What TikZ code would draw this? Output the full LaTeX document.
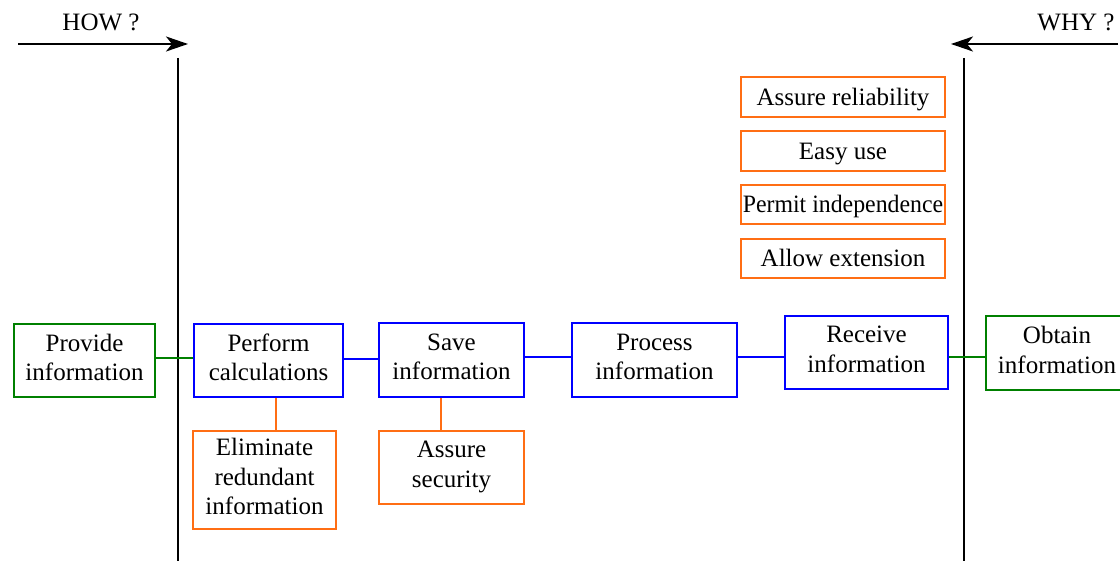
\documentclass[tikz,border=0pt]{standalone}
\usepackage{fontspec}
\setmainfont{Liberation Serif}
\usetikzlibrary{arrows.meta}
\definecolor{cgreen}{RGB}{0,128,0}
\definecolor{cblue}{RGB}{0,0,255}
\definecolor{corange}{RGB}{255,110,20}
\tikzset{
  bx/.style={draw, line width=0.9pt, inner sep=0pt, align=center,
    font=\fontsize{12.5}{14.7}\selectfont, text depth=3.3pt},
  one/.style={text height=9pt, text depth=0.7pt},
  gbox/.style={bx, draw=cgreen},
  bbox/.style={bx, draw=cblue},
  obox/.style={bx, draw=corange},
  gline/.style={draw=cgreen, line width=0.9pt},
  bline/.style={draw=cblue, line width=0.9pt},
  oline/.style={draw=corange, line width=0.9pt},
  axis/.style={draw=black, line width=1pt},
  harrow/.style={draw=black, line width=1pt, -{Stealth[length=11pt,width=7.5pt,inset=3pt]}},
  lbl/.style={font=\fontsize{12.5}{15}\selectfont, inner sep=0pt}
}
\begin{document}
\begin{tikzpicture}[x=0.5pt,y=-0.5pt]
\useasboundingbox (0,0) rectangle (1120,561);
% headers
\node[lbl] (how) at (101,22) {HOW ?};
\node[lbl] (why) at (1076,22) {WHY ?};
\coordinate (howa) at (18,44);
\coordinate (howb) at (188,44);
\coordinate (whya) at (1118,44);
\coordinate (whyb) at (951,44);
\draw[harrow] (howa) -- (howb);
\draw[harrow] (whya) -- (whyb);
% vertical lines
\coordinate (lt) at (178,58);
\coordinate (lb) at (178,561);
\coordinate (rt) at (964,58);
\coordinate (rb) at (964,561);
\draw[axis] (lt) -- (lb);
\draw[axis] (rt) -- (rb);
% main chain
\node[gbox, minimum width=70.5pt, minimum height=36.5pt] (provide) at (84.5,360.5) {Provide\\information};
\node[bbox, minimum width=74.5pt, minimum height=36.5pt] (perform) at (268.5,360.5) {Perform\\calculations};
\node[bbox, minimum width=72.5pt, minimum height=37pt] (save) at (451.5,360) {Save\\information};
\node[bbox, minimum width=82.5pt, minimum height=37pt] (process) at (654.5,360) {Process\\information};
\node[bbox, minimum width=81.5pt, minimum height=36.5pt] (receive) at (866.5,352.5) {Receive\\information};
\node[gbox, minimum width=71pt, minimum height=37pt] (obtain) at (1057,353) {Obtain\\information};
% sub boxes
\node[obox, minimum width=71.5pt, minimum height=49pt] (elim) at (264.5,480) {Eliminate\\redundant\\information};
\node[obox, minimum width=72.5pt, minimum height=36.5pt] (secu) at (451.5,467.5) {Assure\\security};
% right column
\node[obox, one, minimum width=102pt, minimum height=20pt] (reli) at (843,97) {Assure reliability};
\node[obox, one, minimum width=102pt, minimum height=20pt] (easy) at (843,151) {Easy use};
\node[obox, one, minimum width=102pt, minimum height=19.5pt] (perm) at (843,204.5) {\scalebox{0.952}[1]{Permit independence}};
\node[obox, one, minimum width=102pt, minimum height=19.5pt] (allow) at (843,258.5) {Allow extension};
% connectors
\draw[gline] (provide.east |- 0,358) -- (perform.west |- 0,358);
\draw[bline] (perform.east |- 0,359) -- (save.west |- 0,359);
\draw[bline] (save.east |- 0,357) -- (process.west |- 0,357);
\draw[bline] (process.east |- 0,357) -- (receive.west |- 0,357);
\draw[gline] (receive.east |- 0,357) -- (obtain.west |- 0,357);
\draw[oline] (perform.south -| 276,0) -- (elim.north -| 276,0);
\draw[oline] (save.south -| 441,0) -- (secu.north -| 441,0);
\end{tikzpicture}
\end{document}
